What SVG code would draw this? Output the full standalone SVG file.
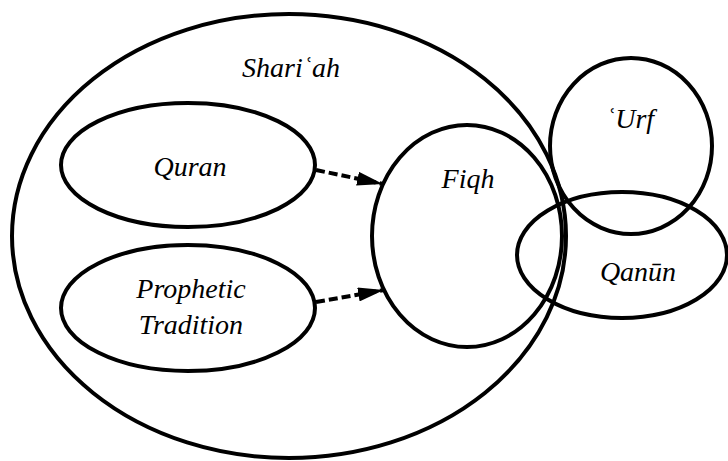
<svg xmlns="http://www.w3.org/2000/svg" width="728" height="461" viewBox="0 0 728 461">
<style>
.shape{fill:none;stroke:#000;stroke-width:4}
.lbl{font-family:"Liberation Serif","DejaVu Serif",serif;font-style:italic;font-size:28px;fill:#000;text-anchor:middle}
.conn{stroke:#000;stroke-width:4;stroke-dasharray:9 4;fill:none}
</style>
<defs>
<marker id="ah" viewBox="0 0 26 14" refX="26" refY="7" markerWidth="26" markerHeight="14" orient="auto" markerUnits="userSpaceOnUse">
<path d="M0,0 L26,7 L0,14 z" fill="#000"/>
</marker>
</defs>
<rect width="728" height="461" fill="#fff"/>
<g id="shariah">
<ellipse class="shape" cx="289" cy="236" rx="277" ry="222"/>
<text class="lbl" x="291" y="77">Shariʿah</text>
</g>
<g id="quran">
<ellipse class="shape" cx="188" cy="165" rx="127" ry="62"/>
<text class="lbl" x="190" y="176">Quran</text>
</g>
<g id="prophetic">
<ellipse class="shape" cx="188" cy="308" rx="127" ry="63"/>
<text class="lbl" x="191" y="298">Prophetic</text>
<text class="lbl" x="191" y="334">Tradition</text>
</g>
<g id="fiqh">
<ellipse class="shape" cx="467" cy="236" rx="95" ry="111"/>
<text class="lbl" x="468" y="188">Fiqh</text>
</g>
<g id="urf">
<ellipse class="shape" cx="631" cy="146" rx="81" ry="88"/>
<text class="lbl" x="630" y="128">ʿUrf</text>
</g>
<g id="qanun">
<ellipse class="shape" cx="622" cy="255" rx="105" ry="63"/>
<text class="lbl" x="638" y="281">Qanūn</text>
</g>
<g id="connectors">
<line class="conn" x1="316" y1="170" x2="383" y2="184" marker-end="url(#ah)"/>
<line class="conn" x1="316" y1="302" x2="384" y2="290" marker-end="url(#ah)"/>
</g>
</svg>
